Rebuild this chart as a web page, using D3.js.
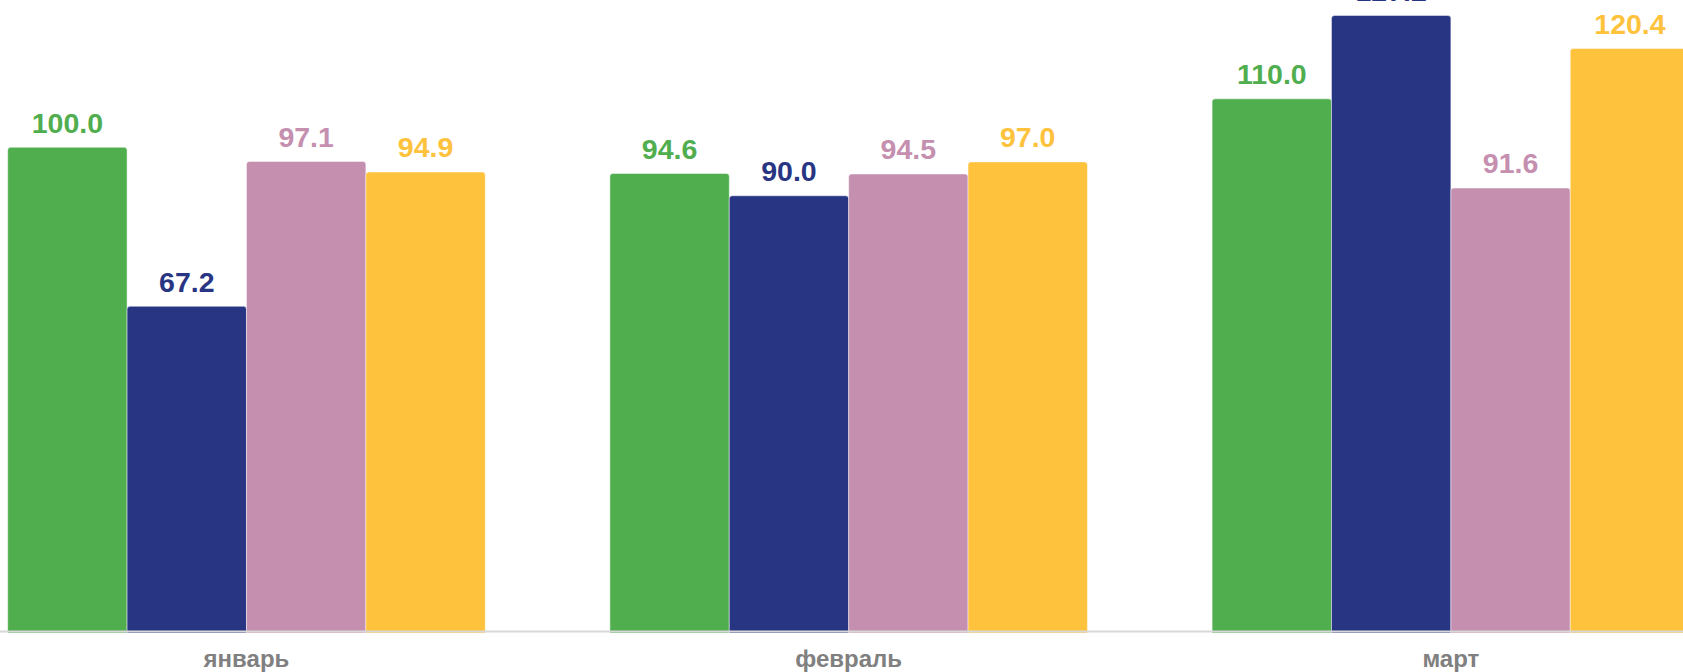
<!DOCTYPE html>
<html>
<head>
<meta charset="utf-8">
<script src="https://cdn.jsdelivr.net/npm/d3@7"></script>
<style>
  html, body { margin: 0; padding: 0; background: #fff; overflow: hidden; }
  svg { display: block; font-family: "Liberation Sans", Arial, sans-serif; }
</style>
</head>
<body>
<svg id="chart" width="1683" height="672"></svg>
<script>
const categories = ["январь", "февраль", "март"];
const seriesNames = ["s1", "s2", "s3", "s4"];
const seriesColors = ["#50AE4F", "#283583", "#C58FB0", "#FEC23D"];
const s1 = [100.0, 94.6, 110.0];
const s2 = [67.2, 90.0, 127.2];
const s3 = [97.1, 94.5, 91.6];
const s4 = [94.9, 97.0, 120.4];
const seriesValues = [s1, s2, s3, s4];

const W = 1683, H = 672;
const svg = d3.select("#chart");

const baseY = 632;
const y = d3.scaleLinear().domain([0, 130.4]).range([baseY, 0]);

const pad = 0.207;
const step = 602.2;
const x0 = d3.scaleBand().domain(categories)
  .range([7.7, 7.7 + step * (3 - pad)])
  .paddingInner(pad).paddingOuter(0);
const x1 = d3.scaleBand().domain(seriesNames).range([0, x0.bandwidth()]).padding(0);

const data = [];
categories.forEach((c, i) => {
  seriesNames.forEach((s, j) => {
    data.push({ cat: c, ser: s, value: seriesValues[j][i], color: seriesColors[j] });
  });
});

const r = 3;
function barPath(d) {
  const xl = x0(d.cat) + x1(d.ser);
  const w = x1.bandwidth();
  const top = y(d.value);
  const bot = baseY + 1;
  return `M${xl},${bot} L${xl},${top + r} Q${xl},${top} ${xl + r},${top} L${xl + w - r},${top} Q${xl + w},${top} ${xl + w},${top + r} L${xl + w},${bot} Z`;
}

svg.append("g").selectAll("path").data(data).join("path")
  .attr("d", barPath)
  .attr("fill", d => d.color)
  .attr("stroke", "rgba(255,255,255,0.45)")
  .attr("stroke-width", 1);

// axis line
svg.append("line")
  .attr("x1", 0).attr("x2", W)
  .attr("y1", baseY - 0.5).attr("y2", baseY - 0.5)
  .attr("stroke", "#d8d8d8").attr("stroke-width", 2);

// value labels
svg.append("g").selectAll("text").data(data).join("text")
  .attr("x", d => x0(d.cat) + x1(d.ser) + x1.bandwidth() / 2)
  .attr("y", d => y(d.value) - 14.6)
  .attr("text-anchor", "middle")
  .attr("font-size", 28.5)
  .attr("font-weight", "bold")
  .attr("fill", d => d.color)
  .text(d => d3.format(".1f")(d.value));

// category labels
svg.append("g").selectAll("text").data(categories).join("text")
  .attr("x", d => x0(d) + x0.bandwidth() / 2)
  .attr("y", 667)
  .attr("text-anchor", "middle")
  .attr("font-size", 24)
  .attr("font-weight", "bold")
  .attr("fill", "#808080")
  .text(d => d);
</script>
</body>
</html>
